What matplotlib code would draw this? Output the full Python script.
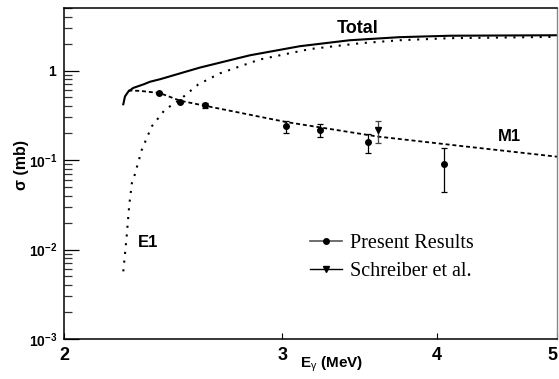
import matplotlib
matplotlib.use('Agg')
import matplotlib.pyplot as plt
from matplotlib.lines import Line2D
from matplotlib.ticker import LogLocator, NullLocator, FixedLocator
import numpy as np

plt.rcParams['font.family'] = ['Liberation Sans', 'DejaVu Sans']
plt.rcParams['mathtext.fontset'] = 'custom'
plt.rcParams['mathtext.rm'] = 'Liberation Sans'
plt.rcParams['mathtext.bf'] = 'Liberation Sans:bold'
plt.rcParams['mathtext.it'] = 'Liberation Sans:italic'

# --- data ---
# total cross section (solid)
total_E = [2.233, 2.240, 2.254, 2.275, 2.318, 2.347, 2.391, 2.575, 2.825, 3.10, 3.40, 3.73, 4.10, 5.0]
total_s = [0.42, 0.513, 0.583, 0.640, 0.700, 0.750, 0.800, 1.08, 1.48, 1.87, 2.18, 2.36, 2.45, 2.48]

# E1 component (dotted)
e1_E = [2.233, 2.247, 2.258, 2.269, 2.279, 2.311, 2.354, 2.412, 2.480, 2.567, 2.672, 2.878, 3.16, 3.47, 3.73, 4.10, 5.0]
e1_s = [0.0057, 0.014, 0.0317, 0.0553, 0.0656, 0.130, 0.237, 0.364, 0.471, 0.700, 0.930, 1.33, 1.74, 2.02, 2.18, 2.30, 2.38]

# M1 component (dashed)
m1_E = [2.254, 2.303, 2.39, 2.483, 2.600, 3.022, 3.583, 4.175, 5.0]
m1_s = [0.598, 0.593, 0.56, 0.459, 0.404, 0.266, 0.183, 0.144, 0.109]

# present results
pr_E = [2.388, 2.483, 2.600, 3.022, 3.219, 3.52, 4.05]
pr_s = [0.56, 0.444, 0.407, 0.237, 0.218, 0.159, 0.091]
pr_lo = [0.55, 0.435, 0.383, 0.203, 0.181, 0.120, 0.044]
pr_hi = [0.57, 0.453, 0.432, 0.270, 0.252, 0.197, 0.136]

# Schreiber et al.
sc_E = [3.583]
sc_s = [0.218]
sc_lo = [0.155]
sc_hi = [0.272]

xticks = [2, 3, 4, 5]
yticks = [1e-3, 1e-2, 1e-1, 1]
ylabels = [r'$\mathbf{10^{-3}}$', r'$\mathbf{10^{-2}}$', r'$\mathbf{10^{-1}}$', r'$\mathbf{1}$']

fig = plt.figure(figsize=(5.59, 3.79), dpi=100)
ax = fig.add_axes([64/559, 1-339/379, (557-64)/559, (339-8)/379])
ax.set_xscale('log')
ax.set_yscale('log')
ax.set_xlim(2, 5)
ax.set_ylim(1e-3, 5)

ax.plot(total_E, total_s, color='black', lw=1.5, solid_joinstyle='round')
ax.plot(e1_E, e1_s, color='black', lw=1.5, linestyle=(0, (1, 3.2)))
ax.plot(m1_E, m1_s, color='black', lw=1.3, linestyle=(0, (2.2, 1.6)))

pr_s_a = np.array(pr_s)
ax.errorbar(pr_E, pr_s, yerr=[pr_s_a - np.array(pr_lo), np.array(pr_hi) - pr_s_a],
            fmt='o', color='black', ms=4, elinewidth=0.9, capsize=2.5, capthick=0.9)
sc_s_a = np.array(sc_s)
ax.errorbar(sc_E, sc_s, yerr=[sc_s_a - np.array(sc_lo), np.array(sc_hi) - sc_s_a],
            fmt='v', color='black', ms=4, elinewidth=0.9, capsize=2.5, capthick=0.9, ecolor='#444444')

# ticks
ax.xaxis.set_major_locator(FixedLocator(xticks))
ax.xaxis.set_minor_locator(NullLocator())
ax.set_xticklabels([str(t) for t in xticks], fontsize=13, fontweight='bold')
ax.get_xticklabels()[-1].set_horizontalalignment('right')
ax.yaxis.set_major_locator(FixedLocator(yticks))
ax.yaxis.set_minor_locator(LogLocator(base=10, subs=np.arange(2, 10)))
ax.set_yticklabels(ylabels, fontsize=10)
ax.tick_params(axis='x', which='major', direction='in', length=4, width=0.8, pad=6)
ax.tick_params(axis='y', which='major', direction='in', length=11, width=0.9, pad=5)
ax.tick_params(axis='y', which='minor', direction='in', length=5.5, width=0.9, color='#333333')
ax.tick_params(right=False, top=False, which='both')

for s in ['left', 'bottom', 'top']:
    ax.spines[s].set_linewidth(1.1)
ax.spines['right'].set_color('#888888')
ax.spines['right'].set_linewidth(1.0)

ax.set_ylabel('σ (mb)', fontsize=11.5, fontweight='bold')
ax.yaxis.set_label_coords(-35/493, (339-165)/331)
fig.text(300/559, 1-364/379, r'E$_{\mathrm{\gamma}}$ (MeV)', fontsize=11, fontweight='bold', va='center', ha='left')

ax.text(3.45, 2.95, 'Total', fontsize=13, fontweight='bold', ha='center', va='center')
ax.text(4.58, 0.185, 'M1', fontsize=12, fontweight='bold', ha='center', va='center')
ax.text(2.338, 0.0119, 'E1', fontsize=12, fontweight='bold', ha='center', va='center')

handles = [Line2D([], [], color='#555555', lw=1.2, marker='o', ms=4, mfc='black', mec='black'),
           Line2D([], [], color='black', lw=1.0, marker='v', ms=4)]
fig.legend(handles, ['Present Results', 'Schreiber et al.'], loc='upper left',
           bbox_to_anchor=(310/559, 1-234/379), frameon=False,
           prop={'family': 'Liberation Serif', 'size': 14.5},
           handlelength=1.6, handletextpad=0.4, labelspacing=0.45, borderpad=0, borderaxespad=0)

fig.savefig('out.png', dpi=100)
